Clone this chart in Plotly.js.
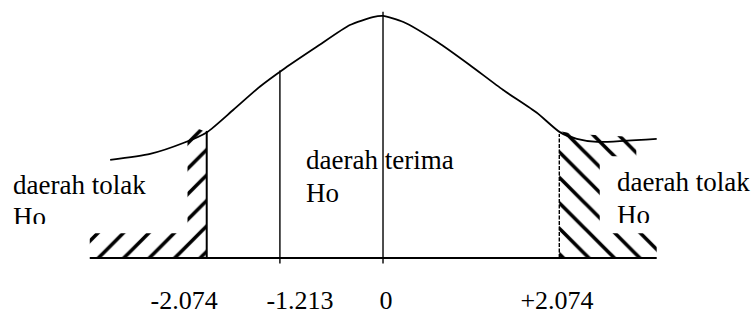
<!DOCTYPE html>
<html>
<head>
<meta charset="utf-8">
<script src="https://cdn.plot.ly/plotly-3.0.1.min.js"></script>
<style>html,body{margin:0;padding:0;background:#fff;}#chart{width:752px;height:320px;}</style>
</head>
<body>
<div id="chart"></div>
<script>
// Density curve (z, height)
const curveX = [-3.21, -2.74, -2.35, -2.07, -1.76, -1.45, -1.15, -0.78, -0.39, -0.12, 0, 0.24, 0.64, 1.02, 1.41, 1.81, 2.08, 2.28, 2.52, 3.22];
const curveY = [0.162, 0.172, 0.190, 0.208, 0.245, 0.283, 0.314, 0.349, 0.385, 0.398, 0.400, 0.390, 0.357, 0.319, 0.278, 0.240, 0.208, 0.197, 0.192, 0.197];

// Critical values and their labels
const critValues = [-2.074, -1.213, 0, 2.074];
const tickLabels = ['-2.074', '-1.213', '0', '+2.074'];
const lineTops = [0.210, 0.310, 0.407, 0.205];
const lineBottoms = [0, -0.009, -0.009, 0];

// Axis extent
const axisX = [-3.45, 3.22];

// Hatched rejection regions (outline)
const leftRegionX = [-3.45, -2.074, -2.074, -2.18, -2.30, -2.30, -3.45];
const leftRegionY = [0, 0, 0.208, 0.214, 0.196, 0.041, 0.041];
const rightRegionX = [2.074, 3.22, 3.22, 2.55, 2.55, 2.98, 2.98, 2.25, 2.074];
const rightRegionY = [0, 0, 0.041, 0.041, 0.168, 0.168, 0.200, 0.205, 0.210];

// Region texts
const regionText = ['daerah tolak', 'Ho', 'daerah terima', 'Ho', 'daerah tolak', 'Ho'];

// ---- layout constants (positions) ----
const textX = [-4.353, -4.353, -0.906, -0.906, 2.753, 2.753];
const textY = [0.117, 0.064, 0.158, 0.103, 0.122, 0.068];
const tickLabelX = [-2.34, -0.976, 0.035, 2.047];
const tickLabelY = -0.074;
const fontFam = 'Liberation Serif, Times New Roman, serif';

const traces = [];
traces.push({x: leftRegionX, y: leftRegionY, mode: 'lines', fill: 'toself', line: {width: 0, color: 'rgba(0,0,0,0)'},
  fillcolor: 'white', fillpattern: {shape: '/', size: 18, solidity: 0.2, fgcolor: '#000', bgcolor: '#fff'}, hoverinfo: 'skip'});
traces.push({x: rightRegionX, y: rightRegionY, mode: 'lines', fill: 'toself', line: {width: 0, color: 'rgba(0,0,0,0)'},
  fillcolor: 'white', fillpattern: {shape: '\\', size: 18, solidity: 0.2, fgcolor: '#000', bgcolor: '#fff'}, hoverinfo: 'skip'});
traces.push({x: curveX, y: curveY, mode: 'lines', line: {color: '#000', width: 1.8, shape: 'spline', smoothing: 0.6}, hoverinfo: 'skip'});
traces.push({x: axisX, y: [0, 0], mode: 'lines', line: {color: '#000', width: 2.2}, hoverinfo: 'skip'});
critValues.forEach((v, i) => {
  traces.push({x: [v, v], y: [lineBottoms[i], lineTops[i]], mode: 'lines',
    line: {color: '#000', width: i === 0 ? 2 : 1.4, dash: i === 3 ? '4px,1.5px' : 'solid'}, hoverinfo: 'skip'});
});
traces.push({x: textX, y: textY, mode: 'text', text: regionText, textposition: 'middle right',
  textfont: {family: fontFam, size: 27, color: '#000'}, hoverinfo: 'skip'});
traces.push({x: tickLabelX, y: tickLabelX.map(() => tickLabelY), mode: 'text', text: tickLabels, textposition: 'middle center',
  textfont: {family: fontFam, size: 26, color: '#000'}, hoverinfo: 'skip'});

const layout = {
  width: 752, height: 320,
  margin: {l: 0, r: 0, t: 0, b: 0},
  paper_bgcolor: '#fff', plot_bgcolor: '#fff',
  showlegend: false,
  xaxis: {range: [-4.506, 4.341], visible: false, fixedrange: true},
  yaxis: {range: [-0.1025, 0.4264], visible: false, fixedrange: true},
  shapes: [
    {type: 'rect', layer: 'above', xref: 'x', yref: 'y', x0: -4.38, x1: -3.75, y0: 0.045, y1: 0.056, fillcolor: '#fff', line: {width: 0}},
    {type: 'rect', layer: 'above', xref: 'x', yref: 'y', x0: 2.73, x1: 3.37, y0: 0.045, y1: 0.058, fillcolor: '#fff', line: {width: 0}}
  ]
};

Plotly.newPlot('chart', traces, layout, {staticPlot: true, displayModeBar: false});
</script>
</body>
</html>
